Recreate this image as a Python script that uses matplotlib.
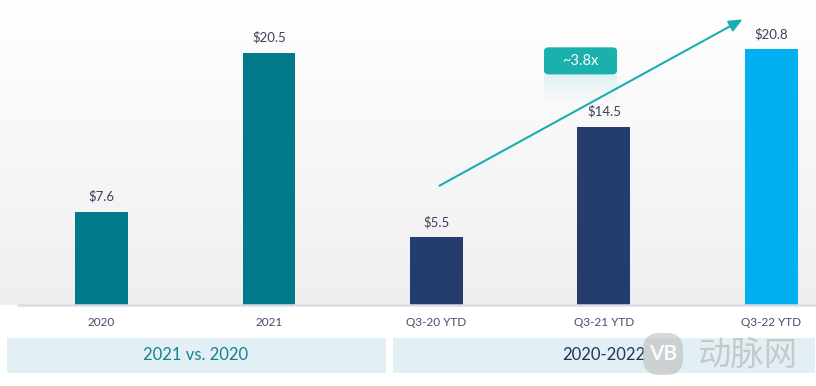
import numpy as np
import matplotlib.pyplot as plt
from matplotlib.colors import LinearSegmentedColormap
from matplotlib.patches import FancyBboxPatch, Rectangle

# ============================================================
# Data
# ============================================================

categories = ["2020", "2021", "Q3-20 YTD", "Q3-21 YTD", "Q3-22 YTD"]
values = [7.6, 20.5, 5.5, 14.5, 20.8]
value_labels = ["$7.6", "$20.5", "$5.5", "$14.5", "$20.8"]
bar_colors = ["#00798a", "#00798a", "#243c6e", "#243c6e", "#00b0f0"]
group_labels = ["2021 vs. 2020", "2020-2022"]
growth_label = "~3.8x"

plt.rcParams["font.family"] = ["Lato", "DejaVu Sans"]

# ============================================================
# Figure
# ============================================================

fig = plt.figure(figsize=(8.16, 3.86), dpi=100)
fig.patch.set_facecolor("white")

ax = fig.add_axes([0.0, 1 - 305 / 386, 1.0, 305 / 386])

x = np.arange(len(categories))
ax.set_xlim(-0.606, 4.266)
ax.set_ylim(0, 24.8)

# gradient background
grad = np.linspace(1.0, 0.0, 256).reshape(-1, 1)
ax.imshow(
    grad,
    extent=(-0.606, 4.266, 0, 24.8),
    aspect="auto",
    cmap=LinearSegmentedColormap.from_list("bg", ["#efeff0", "#ffffff"]),
    vmin=0,
    vmax=1,
    zorder=0
)

ax.bar(x, values, width=0.316, color=bar_colors, zorder=2)

for xi, v, lab in zip(x, values, value_labels):
    ax.annotate(
        lab,
        (xi, v),
        xytext=(0, 11),
        textcoords="offset points",
        ha="center",
        va="center",
        fontsize=9.5,
        color="#3f3f5a"
    )

# baseline
ax.plot([-0.504, 4.266], [0, 0], color="#dcdce6", lw=1.8, zorder=3,
        clip_on=False, solid_capstyle="butt")

# growth arrow
ax.annotate(
    "",
    xy=(3.842, 23.33),
    xytext=(2.003, 9.59),
    arrowprops=dict(
        arrowstyle="-|>,head_length=0.8,head_width=0.35",
        color="#1aafae",
        lw=1.5
    ),
    zorder=4
)

# growth badge
badge_x, badge_y, badge_w, badge_h = 2.86, 18.75, 0.436, 2.2
badge = FancyBboxPatch(
    (badge_x - badge_w / 2, badge_y), badge_w, badge_h,
    boxstyle="round,pad=0,rounding_size=0.03",
    facecolor="#1ab0ab", edgecolor="none", zorder=5,
    mutation_aspect=10
)
ax.add_patch(badge)
ax.text(badge_x, badge_y + badge_h / 2, growth_label, ha="center",
        va="center", fontsize=10.5, color="white", zorder=6)

# faded reflection of the badge
for i in range(12):
    ax.add_patch(Rectangle(
        (badge_x - badge_w / 2, badge_y - 0.18 * (i + 1)), badge_w, 0.18,
        facecolor="#1ab0ab", alpha=0.12 * (1 - i / 12),
        edgecolor="none", zorder=4
    ))

ax.axis("off")

# category labels
for xi, cat in zip(x, categories):
    fig.text(
        (101.5 + 167.5 * xi) / 816, 1 - 323 / 386, cat,
        ha="center", va="center", fontsize=8.5, color="#4a4a68"
    )

# group bands
fig.patches.append(Rectangle(
    (7 / 816, 1 - 373 / 386), 379 / 816, 35 / 386,
    transform=fig.transFigure, facecolor="#e2f0f6", edgecolor="none"
))
fig.patches.append(Rectangle(
    (393 / 816, 1 - 373 / 386), 422 / 816, 35 / 386,
    transform=fig.transFigure, facecolor="#e2f0f6", edgecolor="none"
))
fig.text(196 / 816, 1 - 355 / 386, group_labels[0], ha="center",
         va="center", fontsize=12, color="#17808f")
fig.text(604 / 816, 1 - 355 / 386, group_labels[1], ha="center",
         va="center", fontsize=12, color="#26335f")

# watermark
fig.patches.append(FancyBboxPatch(
    (643 / 816, 1 - 375 / 386), 40 / 816, 42 / 386,
    boxstyle="round,pad=0,rounding_size=0.02",
    transform=fig.transFigure, facecolor="#bdbdbd", alpha=0.6,
    edgecolor="none", mutation_aspect=2.1, zorder=5
))
fig.text(663 / 816, 1 - 354 / 386, "VB",
         ha="center", va="center", fontsize=15, fontweight="bold",
         color="white", alpha=0.9, zorder=6)
fig.text(747 / 816, 1 - 355 / 386, "动脉网",
         family=["Noto Sans CJK SC", "DejaVu Sans"],
         ha="center", va="center", fontsize=24, color="#bcbcbc",
         alpha=0.75, zorder=6)

fig.savefig("out.png", dpi=100)
